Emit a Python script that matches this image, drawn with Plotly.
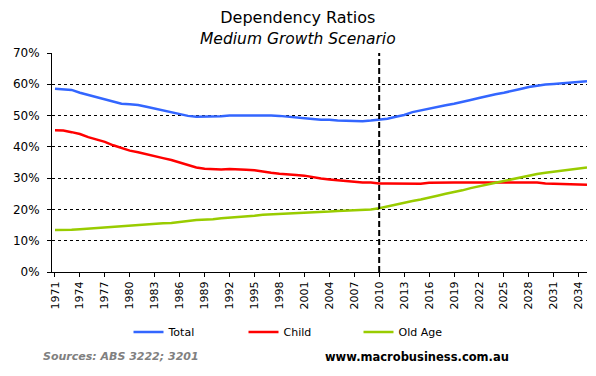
import plotly.graph_objects as go

years = list(range(1971, 2036))

total = [58.6, 58.4, 58.2, 57.3, 56.6, 55.9, 55.3, 54.6, 53.8, 53.6,
         53.4, 52.8, 52.2, 51.5, 50.9, 50.5, 49.9, 49.6, 49.6, 49.6,
         49.8, 50.0, 50.0, 50.2, 50.2, 50.2, 50.0, 49.9, 49.6, 49.5,
         49.2, 48.9, 48.7, 48.7, 48.4, 48.3, 48.2, 48.2, 48.4, 48.6,
         49.0, 49.6, 50.2, 51.1, 51.7, 52.2, 52.7, 53.3, 53.8, 54.3,
         55.0, 55.6, 56.3, 56.8, 57.3, 58.0, 58.5, 59.1, 59.6, 59.9,
         60.1, 60.3, 60.5, 60.9, 61.0]

child = [45.3, 45.2, 44.7, 44.1, 43.1, 42.4, 41.6, 40.5, 39.6, 38.8,
         38.3, 37.6, 37.1, 36.4, 35.8, 35.0, 34.2, 33.4, 33.0, 32.8,
         32.8, 32.9, 32.9, 32.7, 32.5, 32.0, 31.7, 31.4, 31.1, 31.0,
         30.8, 30.3, 29.9, 29.6, 29.3, 29.2, 28.9, 28.6, 28.6, 28.3,
         28.3, 28.3, 28.2, 28.2, 28.2, 28.5, 28.6, 28.6, 28.6, 28.6,
         28.6, 28.6, 28.6, 28.6, 28.6, 28.6, 28.6, 28.6, 28.6, 28.3,
         28.2, 28.2, 28.2, 28.0, 27.9]

old_age = [13.4, 13.4, 13.5, 13.7, 13.9, 14.0, 14.2, 14.4, 14.6, 14.9,
           15.2, 15.4, 15.4, 15.6, 15.7, 15.9, 16.3, 16.6, 16.7, 16.9,
           17.2, 17.4, 17.4, 17.6, 18.0, 18.3, 18.4, 18.5, 18.7, 18.8,
           18.9, 19.1, 19.2, 19.3, 19.5, 19.6, 19.8, 19.9, 20.0, 20.4,
           21.0, 21.5, 22.3, 22.7, 23.2, 23.7, 24.4, 25.0, 25.5, 26.1,
           26.8, 27.3, 27.9, 28.5, 29.1, 29.7, 30.2, 30.8, 31.3, 31.7,
           32.0, 32.4, 32.7, 33.0, 33.4]

tick_years = list(range(1971, 2035, 3))
y_ticks = [0, 10, 20, 30, 40, 50, 60, 70]
marker_year = 2010

FONT = "DejaVu Sans"

fig = go.Figure()
fig.add_trace(go.Scatter(x=years, y=total, name="Total", mode="lines",
                         line=dict(color="#3366FF", width=2.5)))
fig.add_trace(go.Scatter(x=years, y=child, name="Child", mode="lines",
                         line=dict(color="#FF0000", width=2.5)))
fig.add_trace(go.Scatter(x=years, y=old_age, name="Old Age", mode="lines",
                         line=dict(color="#99CC00", width=2.5)))

fig.add_shape(type="line", x0=marker_year, x1=marker_year, y0=0, y1=70,
              xref="x", yref="y", line=dict(color="black", width=2, dash="6px,3px"))

fig.update_layout(
    width=596, height=376,
    margin=dict(l=44, r=17, t=45, b=112, autoexpand=False),
    paper_bgcolor="white", plot_bgcolor="white",
    font=dict(family=FONT, size=11, color="black"),
    showlegend=True,
    legend=dict(orientation="h", x=0.143, xanchor="left", y=-0.208, yanchor="top",
                font=dict(family=FONT, size=11, color="black"),
                entrywidth=70, entrywidthmode="pixels", itemwidth=30),
    annotations=[
        dict(text="Dependency Ratios<br><i><span style='font-size:15.5px'>Medium Growth Scenario</span></i>",
             xref="paper", yref="paper", x=0.46, y=1.0,
             yshift=25, xanchor="center", yanchor="middle", showarrow=False,
             align="center", borderpad=0,
             font=dict(family=FONT, size=16, color="black")),
        dict(text="<b><i>Sources: ABS 3222; 3201</i></b>", xref="paper", yref="paper",
             x=-0.02, y=-0.388, xanchor="left", yanchor="middle", showarrow=False,
             font=dict(family=FONT, size=11, color="#808080")),
        dict(text="<b>www.macrobusiness.com.au</b>", xref="paper", yref="paper",
             x=0.5065, y=-0.388, xanchor="left", yanchor="middle", showarrow=False,
             font=dict(family=FONT, size=11.5, color="black")),
    ],
)

fig.update_xaxes(range=[1970.64, 2035.0], tickvals=tick_years,
                 ticktext=[str(y) for y in tick_years], tickangle=-90,
                 showgrid=False, zeroline=False, showline=True, linecolor="black",
                 linewidth=1, ticks="outside", ticklen=4, tickcolor="black",
                 tickfont=dict(family=FONT, size=11), automargin=False)
fig.update_yaxes(range=[0, 70], tickvals=y_ticks,
                 ticktext=[f"{v}%" for v in y_ticks],
                 showgrid=True, gridcolor="black", gridwidth=1, griddash="3px,3px",
                 zeroline=False, showline=True, linecolor="black", linewidth=1,
                 ticks="outside", ticklen=4, tickcolor="black", ticklabelstandoff=5,
                 tickfont=dict(family=FONT, size=12), automargin=False)

fig.write_html("out.html")
